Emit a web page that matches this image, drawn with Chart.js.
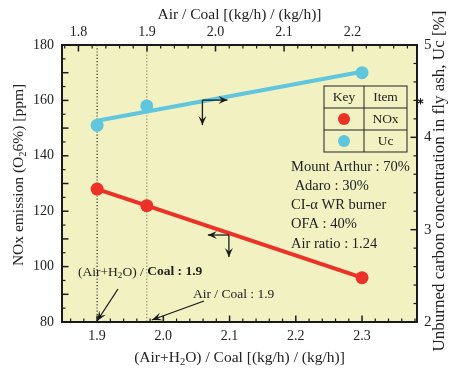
<!DOCTYPE html>
<html>
<head>
<meta charset="utf-8">
<script src="https://cdn.jsdelivr.net/npm/chart.js@4/dist/chart.umd.min.js"></script>
<style>
html,body{margin:0;padding:0;background:#fff;}
#wrap{width:454px;height:371px;position:relative;}
</style>
</head>
<body>
<div id="wrap"><canvas id="c" width="454" height="371"></canvas></div>
<script>
// ---- data ----
const xAirH2OCoal = [1.9, 1.975, 2.3];      // (Air+H2O)/Coal
const noxPpm      = [128, 122, 96];          // NOx emission (O2 6%) [ppm]
const ucPercent   = [4.13, 4.34, 4.70];      // Unburned carbon Uc [%]
const ucFitX      = [1.9, 2.3];              // trend line drawn through Uc points
const ucFitY      = [4.18, 4.71];
const refLinesX   = [1.9, 1.975];            // dotted reference lines, (Air+H2O)/Coal
const bottomTicks = [1.9, 2.0, 2.1, 2.2, 2.3];
const topTicks    = [1.8, 1.9, 2.0, 2.1, 2.2];
const leftTicks   = [80, 100, 120, 140, 160, 180];
const rightTicks  = [2, 3, 4, 5];
const infoLines   = ["Mount Arthur : 70%", " Adaro : 30%", "CI-\u03B1 WR burner", "OFA : 40%", "Air ratio : 1.24"];

const FF = "'Liberation Serif','Times New Roman',serif";
const RED = '#ec3128', CYAN = '#5fc6de', BG = '#f1f1c2', INK = '#1a1a1a';

function drawRich(ctx, segs, x, y, size, align) {
  const fontOf = s => (s.bold ? 'bold ' : '') + (s.sub ? size * 0.68 : size) + 'px ' + FF;
  let w = 0;
  segs.forEach(s => { ctx.font = fontOf(s); s.w = ctx.measureText(s.t).width; w += s.w; });
  let cx = align === 'center' ? x - w / 2 : (align === 'right' ? x - w : x);
  ctx.textAlign = 'left'; ctx.textBaseline = 'middle';
  segs.forEach(s => { ctx.font = fontOf(s); ctx.fillText(s.t, cx, y + (s.sub ? size * 0.28 : 0)); cx += s.w; });
}
function arrowHead(ctx, x1, y1, x2, y2, len, wid) {
  const ang = Math.atan2(y2 - y1, x2 - x1);
  ctx.beginPath();
  ctx.moveTo(x2, y2);
  ctx.lineTo(x2 - len * Math.cos(ang) + wid * Math.sin(ang), y2 - len * Math.sin(ang) - wid * Math.cos(ang));
  ctx.lineTo(x2 - len * 0.6 * Math.cos(ang), y2 - len * 0.6 * Math.sin(ang));
  ctx.lineTo(x2 - len * Math.cos(ang) - wid * Math.sin(ang), y2 - len * Math.sin(ang) + wid * Math.cos(ang));
  ctx.closePath(); ctx.fill();
}
function arrow(ctx, x1, y1, x2, y2, len, wid) {
  ctx.beginPath(); ctx.moveTo(x1, y1); ctx.lineTo(x2, y2); ctx.stroke();
  arrowHead(ctx, x1, y1, x2, y2, len, wid);
}

const deco = {
  id: 'deco',
  beforeDraw(chart) {
    const {ctx, chartArea: a} = chart;
    ctx.save(); ctx.fillStyle = BG; ctx.fillRect(a.left, a.top, a.right - a.left, a.bottom - a.top); ctx.restore();
  },
  beforeDatasetsDraw(chart) {
    const {ctx, chartArea: a, scales} = chart;
    ctx.save(); ctx.lineWidth = 1.2; ctx.setLineDash([1.2, 2]);
    refLinesX.forEach((v, i) => {
      const x = scales.x.getPixelForValue(v);
      ctx.strokeStyle = i === 0 ? '#333' : '#8a8a6a';
      ctx.beginPath(); ctx.moveTo(x, a.top); ctx.lineTo(x, a.bottom); ctx.stroke();
    });
    ctx.restore();
  },
  afterDraw(chart) {
    const {ctx, chartArea: a, scales} = chart;
    ctx.save();
    ctx.strokeStyle = INK; ctx.fillStyle = INK;
    // inward ticks
    const tk = (scale, from, to, step, majEvery, horizontal, edge, dir) => {
      const n = Math.round((to - from) / step);
      for (let i = 0; i <= n; i++) {
        const v = from + i * step;
        const p = scale.getPixelForValue(v);
        const major = Math.abs(v / majEvery - Math.round(v / majEvery)) < 1e-6;
        const L = major ? 6.5 : 3.5;
        ctx.lineWidth = major ? 1.5 : 1.2;
        ctx.beginPath();
        if (horizontal) { ctx.moveTo(p, edge); ctx.lineTo(p, edge + dir * L); }
        else { ctx.moveTo(edge, p); ctx.lineTo(edge + dir * L, p); }
        ctx.stroke();
      }
    };
    tk(scales.y, 80, 180, 5, 10, false, a.left, 1);
    tk(scales.y2, 2, 5, 0.2, 1, false, a.right, -1);
    tk(scales.x, 1.86, 2.38, 0.02, 0.1, true, a.bottom, -1);
    tk(scales.x2, 1.78, 2.28, 0.02, 0.1, true, a.top, 1);
    // frame
    ctx.lineWidth = 2; ctx.strokeRect(a.left, a.top, a.right - a.left, a.bottom - a.top);

    // axis titles
    ctx.fillStyle = '#222';
    ctx.save(); ctx.translate(19, 175); ctx.rotate(-Math.PI / 2);
    drawRich(ctx, [{t: 'NOx emission (O'}, {t: '2', sub: true}, {t: '6%) [ppm]'}], 0, 0, 15.5, 'center');
    ctx.restore();
    ctx.save(); ctx.translate(440, 181); ctx.rotate(-Math.PI / 2);
    drawRich(ctx, [{t: 'Unburned carbon concentration in fly ash, Uc [%]'}], 0, 0, 17, 'center');
    ctx.restore();
    const cx = (a.left + a.right) / 2;
    drawRich(ctx, [{t: '(Air+H'}, {t: '2', sub: true}, {t: 'O) / Coal [(kg/h) / (kg/h)]'}], cx, 358, 15.5, 'center');
    drawRich(ctx, [{t: 'Air / Coal [(kg/h) / (kg/h)]'}], cx, 15, 15.5, 'center');

    // direction arrows (corner placed on each line)
    ctx.strokeStyle = INK; ctx.fillStyle = INK; ctx.lineWidth = 1.3;
    let px = scales.x.getPixelForValue(2.059), py = scales.y.getPixelForValue(160.1);
    arrow(ctx, px, py, px + 25, py, 9, 4);
    arrow(ctx, px, py, px, py + 25, 9, 4);
    px = scales.x.getPixelForValue(2.099); py = scales.y.getPixelForValue(111.4);
    arrow(ctx, px, py, px - 21, py, 9, 4);
    arrow(ctx, px, py, px, py + 22, 9, 4);

    // pointer annotations
    ctx.fillStyle = '#222';
    drawRich(ctx, [{t: '(Air+H'}, {t: '2', sub: true}, {t: 'O) / '}, {t: 'Coal : 1.9', bold: true}], 78, 272, 13.5, 'left');
    drawRich(ctx, [{t: 'Air / Coal : 1.9'}], 193, 294, 13.5, 'left');
    ctx.fillStyle = INK; ctx.lineWidth = 1.3;
    arrow(ctx, 118, 289, scales.x.getPixelForValue(refLinesX[0]), a.bottom - 1, 10, 4);
    arrow(ctx, 204, 301, scales.x.getPixelForValue(refLinesX[1]) + 5, a.bottom - 2, 10, 4);

    // star mark on right axis
    ctx.lineWidth = 1.1; const sx = a.right + 3.5, sy = scales.y2.getPixelForValue(4.39);
    for (let k = 0; k < 3; k++) {
      const ang = k * Math.PI / 3 + Math.PI / 2;
      ctx.beginPath(); ctx.moveTo(sx - 3.2 * Math.cos(ang), sy - 3.2 * Math.sin(ang));
      ctx.lineTo(sx + 3.2 * Math.cos(ang), sy + 3.2 * Math.sin(ang)); ctx.stroke();
    }

    // key table
    const tx0 = 324, tx1 = 364, tx2 = 407, ty0 = 86, ty1 = 108, ty2 = 130, ty3 = 152;
    ctx.lineWidth = 1; ctx.strokeStyle = '#222';
    ctx.strokeRect(tx0, ty0, tx2 - tx0, ty3 - ty0);
    ctx.beginPath();
    ctx.moveTo(tx1, ty0); ctx.lineTo(tx1, ty3);
    ctx.moveTo(tx0, ty1); ctx.lineTo(tx2, ty1);
    ctx.moveTo(tx0, ty2); ctx.lineTo(tx2, ty2);
    ctx.stroke();
    ctx.fillStyle = '#222';
    drawRich(ctx, [{t: 'Key'}], (tx0 + tx1) / 2, (ty0 + ty1) / 2, 13.5, 'center');
    drawRich(ctx, [{t: 'Item'}], (tx1 + tx2) / 2, (ty0 + ty1) / 2, 13.5, 'center');
    drawRich(ctx, [{t: 'NOx'}], (tx1 + tx2) / 2, (ty1 + ty2) / 2, 13.5, 'center');
    drawRich(ctx, [{t: 'Uc'}], (tx1 + tx2) / 2, (ty2 + ty3) / 2, 13.5, 'center');
    [[RED, (ty1 + ty2) / 2], [CYAN, (ty2 + ty3) / 2]].forEach(([c, y]) => {
      ctx.fillStyle = c; ctx.beginPath(); ctx.arc((tx0 + tx1) / 2, y, 6, 0, Math.PI * 2); ctx.fill();
    });

    // condition text
    ctx.fillStyle = '#222';
    infoLines.forEach((s, i) => drawRich(ctx, [{t: s}], 291, 167 + i * 19.2, 14.5, 'left'));
    ctx.restore();
  }
};

const tickFont = {family: FF, size: 14};
const fmt1 = v => Number(v).toFixed(1);

new Chart(document.getElementById('c'), {
  type: 'line',
  data: {
    datasets: [
      {label: 'NOx', data: xAirH2OCoal.map((x, i) => ({x, y: noxPpm[i]})), xAxisID: 'x', yAxisID: 'y',
       borderColor: RED, backgroundColor: RED, borderWidth: 4, pointRadius: 6.5, pointBorderWidth: 0, tension: 0},
      {label: 'Uc fit', data: ucFitX.map((x, i) => ({x, y: ucFitY[i]})), xAxisID: 'x', yAxisID: 'y2',
       borderColor: CYAN, borderWidth: 4, pointRadius: 0, tension: 0},
      {label: 'Uc', data: xAirH2OCoal.map((x, i) => ({x, y: ucPercent[i]})), xAxisID: 'x', yAxisID: 'y2',
       showLine: false, borderColor: CYAN, backgroundColor: CYAN, pointRadius: 6.5, pointBorderWidth: 0}
    ]
  },
  options: {
    responsive: false, animation: false,
    layout: {padding: 0},
    plugins: {legend: {display: false}, tooltip: {enabled: false}},
    scales: {
      x: {type: 'linear', position: 'bottom', min: 1.847, max: 2.383,
          afterBuildTicks: s => { s.ticks = bottomTicks.map(v => ({value: v})); },
          ticks: {font: tickFont, color: '#222', padding: 6, maxRotation: 0, callback: fmt1},
          grid: {display: false, drawTicks: false}, border: {display: false},
          afterFit: s => { s.height = 49; }},
      x2: {type: 'linear', position: 'top', min: 1.776, max: 2.294,
          afterBuildTicks: s => { s.ticks = topTicks.map(v => ({value: v})); },
          ticks: {font: tickFont, color: '#222', padding: 4, maxRotation: 0, callback: fmt1},
          grid: {display: false, drawTicks: false}, border: {display: false},
          afterFit: s => { s.height = 45; }},
      y: {type: 'linear', position: 'left', min: 80, max: 180,
          afterBuildTicks: s => { s.ticks = leftTicks.map(v => ({value: v})); },
          ticks: {font: tickFont, color: '#222', padding: 8},
          grid: {display: false, drawTicks: false}, border: {display: false},
          afterFit: s => { s.width = 62; }},
      y2: {type: 'linear', position: 'right', min: 2, max: 5,
          afterBuildTicks: s => { s.ticks = rightTicks.map(v => ({value: v})); },
          ticks: {font: {family: FF, size: 15}, color: '#222', padding: 7},
          grid: {display: false, drawTicks: false}, border: {display: false},
          afterFit: s => { s.width = 37; }}
    }
  },
  plugins: [deco]
});
</script>
</body>
</html>
